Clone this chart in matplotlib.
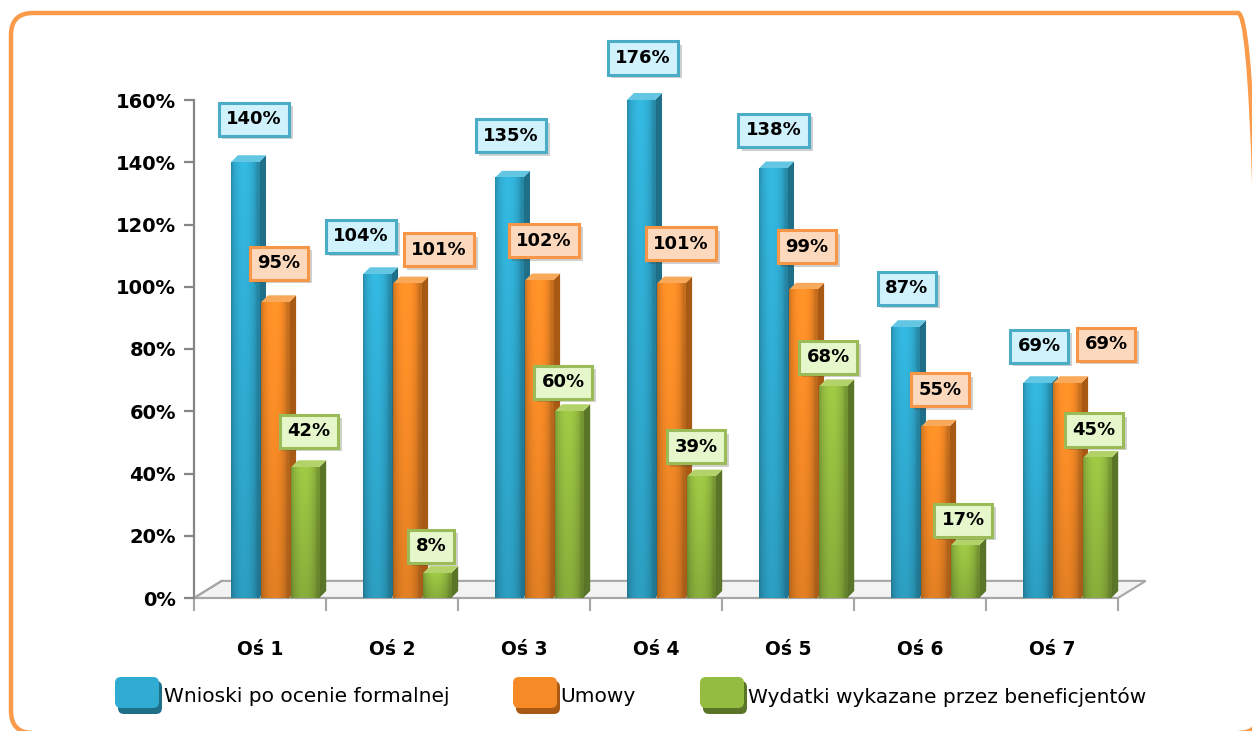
import numpy as np
import matplotlib
matplotlib.use("Agg")
import matplotlib.pyplot as plt
from matplotlib.patches import Polygon, FancyBboxPatch
from matplotlib import patheffects as pe

# ---------------- data ----------------
categories = ["Oś 1", "Oś 2", "Oś 3", "Oś 4", "Oś 5", "Oś 6", "Oś 7"]
series_names = ["Wnioski po ocenie formalnej", "Umowy", "Wydatki wykazane przez beneficjentów"]
wnioski = [1.40, 1.04, 1.35, 1.76, 1.38, 0.87, 0.69]
umowy = [0.95, 1.01, 1.02, 1.01, 0.99, 0.55, 0.69]
wydatki = [0.42, 0.08, 0.60, 0.39, 0.68, 0.17, 0.45]
y_ticks = [0.0, 0.2, 0.4, 0.6, 0.8, 1.0, 1.2, 1.4, 1.6]
y_max = 1.6

# ---------------- layout / style ----------------
W, H = 1252, 731
fig = plt.figure(figsize=(W / 100, H / 100), dpi=100)
fig.patch.set_facecolor("white")

def fx(px):
    return px / W

def fy(py):
    return 1 - py / H

# overlay axes in pixel coordinates (y measured upward) for border and legend
ov = fig.add_axes([0, 0, 1, 1])
ov.set_xlim(0, W)
ov.set_ylim(0, H)
ov.axis("off")
ov.set_zorder(0)

ax = fig.add_axes([fx(194), fy(598), (1118 - 194) / W, (598 - 100) / H])
ax.set_facecolor("none")
ax.set_zorder(1)

front_cols = [np.array([48, 172, 210]) / 255, np.array([246, 138, 38]) / 255, np.array([148, 188, 64]) / 255]
side_cols = ["#1F6F88", "#A85A14", "#5A7527"]
top_cols = ["#63C7E4", "#F9A95A", "#B3D36A"]
box_faces = ["#CFF2FC", "#FCD8BC", "#E6F7CB"]
box_edges = ["#4BACC6", "#F79646", "#9BBB59"]

PERIOD = 0.228
FRONT = 0.213
SHIFT = -0.114
DX = 0.053
DY = 0.0225

# label nudges (pixels, relative to front-top centre of each bar)
LABEL_DX = [
    [9, -16, 2, 2, 1, 2, 2],
    [4, 32, 5, 10, 4, 5, 39],
    [4, -6, -6, -5, -5, -2, -3],
]
LABEL_DY = [
    [43, 38, 42, 42, 38, 39, 37],
    [39, 34, 40, 40, 43, 37, 39],
    [36, 27, 29, 30, 29, 25, 28],
]

# floor
floor_depth_x = 0.21
floor_depth_y = 0.055
floor = Polygon([(-0.5, 0), (6.5, 0), (6.5 + floor_depth_x, floor_depth_y),
                 (-0.5 + floor_depth_x, floor_depth_y)], closed=True,
                facecolor="#F3F3F3", edgecolor="#A6A6A6", lw=1.5, zorder=1, clip_on=False)
ax.add_patch(floor)

all_series = [wnioski, umowy, wydatki]
nx = 40
xx = np.linspace(0, 1, nx)
profile = 0.80 + 0.28 * np.sin(np.pi * np.clip(xx * 1.1, 0, 1)) ** 0.6
z = 2
for i in range(len(categories)):
    for j, vals in enumerate(all_series):
        v = vals[i]
        h = min(v, y_max)
        xc = i + SHIFT + j * PERIOD
        x0, x1 = xc - FRONT / 2, xc + FRONT / 2
        ax.add_patch(Polygon([(x1, 0), (x1 + DX, DY), (x1 + DX, h + DY), (x1, h)],
                             closed=True, facecolor=side_cols[j], edgecolor="none",
                             zorder=z, clip_on=False))
        ax.add_patch(Polygon([(x0, h), (x0 + DX, h + DY), (x1 + DX, h + DY), (x1, h)],
                             closed=True, facecolor=top_cols[j], edgecolor="none",
                             zorder=z, clip_on=False))
        ny = 20
        yy = np.linspace(0, 1, ny)[:, None]
        shade = (0.86 + 0.14 * yy)[:, :, None] * profile[None, :, None]
        img = np.clip(front_cols[j][None, None, :] * shade, 0, 1)
        ax.imshow(img, extent=(x0, x1, 0, h), origin="lower", aspect="auto",
                  interpolation="bilinear", zorder=z + 0.5, clip_on=False)
        z += 1

for i in range(len(categories)):
    for j, vals in enumerate(all_series):
        v = vals[i]
        h = min(v, y_max)
        xc = i + SHIFT + j * PERIOD
        ann = ax.annotate(f"{int(round(v * 100))}%", xy=(xc, h),
                          xytext=(LABEL_DX[j][i], LABEL_DY[j][i]),
                          textcoords="offset pixels", ha="center", va="center",
                          fontsize=13, fontweight="bold", color="black", zorder=100,
                          annotation_clip=False,
                          bbox=dict(boxstyle="square,pad=0.42", facecolor=box_faces[j],
                                    edgecolor=box_edges[j], linewidth=2.2))
        ann.get_bbox_patch().set_path_effects(
            [pe.SimplePatchShadow(offset=(2.5, -2.5), alpha=0.25), pe.Normal()])

ax.set_xlim(-0.5, 6.5)
ax.set_ylim(0, y_max)

for s in ["top", "right"]:
    ax.spines[s].set_visible(False)
ax.spines["left"].set_color("#868686")
ax.spines["left"].set_linewidth(1.6)
ax.spines["bottom"].set_color("#A6A6A6")
ax.spines["bottom"].set_linewidth(1.5)
ax.spines["bottom"].set_zorder(1.5)

ax.set_yticks(y_ticks)
ax.set_yticklabels([f"{int(round(t * 100))}%" for t in y_ticks])
ax.tick_params(axis="y", direction="out", length=7, width=1.6, color="#868686",
               labelsize=14, pad=6)
for lbl in ax.get_yticklabels():
    lbl.set_fontweight("bold")

ax.set_xticks(range(len(categories)))
ax.set_xticklabels(categories)
ax.set_xticks(np.arange(-0.5, 7, 1.0), minor=True)
ax.tick_params(axis="x", which="major", length=0, labelsize=13.5, pad=30)
ax.tick_params(axis="x", which="minor", direction="out", length=9, width=1.5, color="#A6A6A6")
for lbl in ax.get_xticklabels():
    lbl.set_fontweight("bold")

ax.plot([-0.5, -0.5 + floor_depth_x], [0, floor_depth_y], color="#A6A6A6", lw=1.5,
        clip_on=False, zorder=1.2)

# ---------------- legend ----------------
leg_items = [(115, 164), (513, 560), (700, 748)]
for (sx, tx), name, fc, sc in zip(leg_items, series_names, front_cols, side_cols):
    ov.add_patch(FancyBboxPatch((sx + 3, H - 714), 44, 33,
                                boxstyle="round,pad=0,rounding_size=6",
                                facecolor=sc, edgecolor="none"))
    ov.add_patch(FancyBboxPatch((sx, H - 708), 44, 31,
                                boxstyle="round,pad=0,rounding_size=6",
                                facecolor=fc, edgecolor="none"))
    ov.text(tx, H - 697, name, fontsize=14.5, ha="left", va="center", color="black")

# ---------------- outer orange border ----------------
bx0, bx1, by0, by1 = 11, 1260, H - 733, H - 13
ov.add_patch(FancyBboxPatch((bx0, by0), bx1 - bx0, by1 - by0,
                            boxstyle="round,pad=0,rounding_size=22",
                            facecolor="none", edgecolor="#F99B4A", linewidth=3.2))

fig.savefig("out.png", dpi=100, facecolor="white")
